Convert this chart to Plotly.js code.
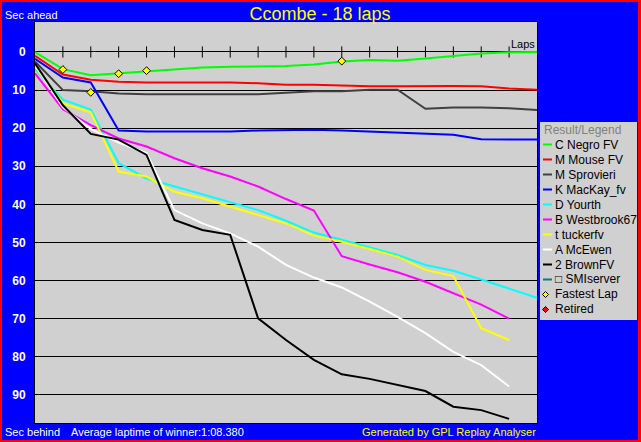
<!DOCTYPE html>
<html>
<head>
<meta charset="utf-8">
<script src="https://cdn.plot.ly/plotly-3.0.1.min.js"></script>
<style>
  html, body { margin: 0; padding: 0; background: #ff0000; }
  #chart { position: absolute; left: 2px; top: 2px; width: 636px; height: 438px; }
</style>
</head>
<body>
<div id="chart"></div>
<script>
// =====================
// DATA
// =====================
const laps = [0, 1, 2, 3, 4, 5, 6, 7, 8, 9, 10, 11, 12, 13, 14, 15, 16, 17, 18];

const driverNames = ["C Negro FV", "M Mouse FV", "M Sprovieri", "K MacKay_fv", "D Yourth",
                     "B Westbrook67", "t tuckerfv", "A McEwen", "2 BrownFV", "\u25a1 SMIserver"];
const driverColors = ["#00ff00", "#ff0000", "#404040", "#0000ff", "#00ffff",
                      "#ff00ff", "#ffff00", "#ffffff", "#000000", "#008080"];

// seconds behind the leader reference, per lap
const negro      = [0, 4.5, 6.1, 5.6, 5.0, 4.5, 4.1, 3.9, 3.8, 3.7, 3.3, 2.5, 2.1, 2.3, 1.7, 1.0, 0.4, 0.1, 0];
const mouse      = [1.0, 5.9, 7.3, 7.8, 8.0, 8.0, 8.0, 8.0, 8.2, 8.6, 8.6, 8.8, 9.0, 9.0, 8.9, 8.9, 9.0, 9.6, 9.9];
const sprovieri  = [2.5, 10.0, 10.3, 10.9, 11.1, 11.1, 11.1, 11.1, 11.1, 10.7, 10.3, 10.3, 9.9, 9.9, 14.9, 14.6, 14.6, 14.8, 15.2];
const mackay     = [1.8, 6.7, 8.0, 20.6, 20.9, 20.9, 20.9, 20.9, 20.6, 20.5, 20.4, 20.6, 20.9, 21.2, 21.4, 21.7, 22.9, 23.0, 23.0];
const yourth     = [4.5, 12.5, 15.1, 29.2, 33.2, 35.3, 37.5, 39.5, 41.5, 44.3, 47.4, 49.3, 51.4, 53.3, 55.9, 57.4, 59.7, 62.0, 64.5];
const westbrook  = [5.6, 15.0, 19.2, 22.7, 24.8, 27.9, 30.5, 32.7, 35.3, 38.6, 41.6, 53.6, 55.8, 57.8, 60.3, 63.2, 66.3, 70.0];
const tucker     = [3.8, 13.5, 15.8, 31.4, 32.7, 36.7, 38.4, 40.6, 42.8, 45.0, 48.2, 49.8, 51.7, 53.7, 57.2, 58.8, 72.5, 75.6];
const mcewen     = [3.3, 14.5, 20.2, 23.8, 26.5, 41.5, 45.0, 47.6, 51.1, 55.9, 59.2, 61.8, 65.5, 69.5, 73.8, 78.7, 82.2, 87.8];
const brown      = [3.0, 14.0, 21.5, 23.0, 27.0, 44.1, 46.7, 48.0, 69.9, 75.6, 80.8, 84.6, 85.8, 87.4, 89.0, 93.1, 94.0, 96.3];

const driverGaps = [negro, mouse, sprovieri, mackay, yourth, westbrook, tucker, mcewen, brown];

// fastest lap markers
const fastestLaps = [1, 2, 3, 4, 11];
const fastestGaps = [4.6, 10.6, 5.7, 4.9, 2.4];

const yTicks = [0, 10, 20, 30, 40, 50, 60, 70, 80, 90];

// =====================
// HELPERS (pixel -> paper, for the hand-drawn legend and captions)
// =====================
const px = X => (X - 35) / 502;
const py = Y => (423 - Y) / 401;
const FONT = "Liberation Sans, Arial, sans-serif";

// =====================
// TRACES
// =====================
const traces = driverGaps.map((gaps, i) => ({
    type: "scatter",
    mode: "lines",
    x: laps.slice(0, gaps.length),
    y: gaps,
    line: { color: driverColors[i], width: 2 },
    name: driverNames[i],
    hoverinfo: "skip"
}));

// lap tick marks on the zero line
traces.unshift({
    type: "scatter",
    mode: "markers",
    x: laps.slice(1, 18),
    y: laps.slice(1, 18).map(() => 0),
    marker: { symbol: "line-ns-open", size: 8, color: "#000000", line: { color: "#000000", width: 1 } },
    hoverinfo: "skip"
});

traces.push({
    type: "scatter",
    mode: "markers",
    x: fastestLaps,
    y: fastestGaps,
    marker: { symbol: "diamond", size: 6, color: "#ffff00", line: { color: "#000000", width: 1 } },
    hoverinfo: "skip"
});

// =====================
// LEGEND (drawn by hand)
// =====================
const shapes = [{
    type: "rect", xref: "paper", yref: "paper",
    x0: px(540), x1: px(637), y0: py(320), y1: py(122),
    fillcolor: "#d0d0d0", line: { width: 0 }, layer: "below"
}];

const annotations = [{
    text: "Result/Legend", xref: "paper", yref: "paper",
    x: px(542), y: py(130), xanchor: "left", yanchor: "middle", showarrow: false,
    font: { family: FONT, size: 12, color: "#808080" }
}];

const legendLabels = driverNames.concat(["Fastest Lap", "Retired"]);
legendLabels.forEach((label, i) => {
    const Y = 144.5 + i * 15;
    if (i < driverNames.length) {
        shapes.push({
            type: "line", xref: "paper", yref: "paper",
            x0: px(543), x1: px(552), y0: py(Y), y1: py(Y),
            line: { color: driverColors[i], width: 2 }
        });
    } else {
        const fill = label === "Fastest Lap" ? "#ffff00" : "#ff0000";
        const cx = 545.5, r = 3;
        shapes.push({
            type: "path", xref: "paper", yref: "paper",
            path: "M " + px(cx - r) + "," + py(Y) + " L " + px(cx) + "," + py(Y - r) +
                  " L " + px(cx + r) + "," + py(Y) + " L " + px(cx) + "," + py(Y + r) + " Z",
            fillcolor: fill, line: { color: "#000000", width: 1 }
        });
    }
    annotations.push({
        text: label, xref: "paper", yref: "paper",
        x: px(553), y: py(Y), xanchor: "left", yanchor: "middle", showarrow: false,
        font: { family: FONT, size: 12, color: "#000000" }
    });
});

// captions
annotations.push(
    { text: "Sec ahead", xref: "paper", yref: "paper", x: px(3), y: py(15),
      xanchor: "left", yanchor: "middle", showarrow: false,
      font: { family: FONT, size: 11, color: "#ffffff" } },
    { text: "Sec behind", xref: "paper", yref: "paper", x: px(3), y: py(432),
      xanchor: "left", yanchor: "middle", showarrow: false,
      font: { family: FONT, size: 11, color: "#ffffff" } },
    { text: "Average laptime of winner:1:08.380", xref: "paper", yref: "paper", x: px(69), y: py(432),
      xanchor: "left", yanchor: "middle", showarrow: false,
      font: { family: FONT, size: 11, color: "#ffffff" } },
    { text: "Generated by GPL Replay Analyser", xref: "paper", yref: "paper", x: px(538), y: py(432),
      xanchor: "right", yanchor: "middle", showarrow: false,
      font: { family: FONT, size: 11, color: "#ffff00" } },
    { text: "Laps", xref: "paper", yref: "y", x: px(537), y: 0,
      xanchor: "right", yanchor: "bottom", showarrow: false,
      font: { family: FONT, size: 11, color: "#000000" } }
);

// =====================
// LAYOUT
// =====================
const layout = {
    width: 636,
    height: 438,
    margin: { l: 33, r: 101, t: 20, b: 17 },
    paper_bgcolor: "#0000ff",
    plot_bgcolor: "#d0d0d0",
    showlegend: false,
    title: {
        text: "Ccombe - 18 laps",
        x: 0.5, xanchor: "center",
        y: 1 - 11.5 / 438, yanchor: "middle",
        font: { family: FONT, size: 18, color: "#ffff00" }
    },
    xaxis: {
        range: [0, 18],
        showgrid: false,
        zeroline: false,
        showticklabels: false,
        ticks: "",
        showline: true, mirror: true, linecolor: "#000000", linewidth: 1
    },
    yaxis: {
        range: [97.38, -7.87],
        tickvals: yTicks,
        ticktext: yTicks.map(String),
        showgrid: true, gridcolor: "#000000", gridwidth: 1,
        zeroline: true, zerolinecolor: "#000000", zerolinewidth: 1,
        ticks: "",
        ticklabelstandoff: 6,
        tickfont: { family: FONT, size: 12, color: "#ffffff", weight: "bold" },
        showline: true, mirror: true, linecolor: "#000000", linewidth: 1
    },
    shapes: shapes,
    annotations: annotations
};

Plotly.newPlot("chart", traces, layout, { displayModeBar: false, staticPlot: true });
</script>
</body>
</html>
